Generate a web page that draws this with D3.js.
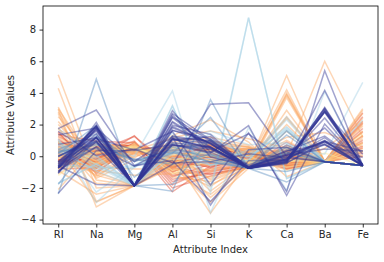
<!DOCTYPE html>
<html>
<head>
<meta charset="utf-8">
<script src="https://cdn.jsdelivr.net/npm/d3@7"></script>
<style>
  body { margin: 0; background: #fff; }
  text { font-family: "DejaVu Sans", sans-serif; fill: #262626; }
</style>
</head>
<body>
<script>
// attribute names (x categories) and y ticks
const attributes = ['RI', 'Na', 'Mg', 'Al', 'Si', 'K', 'Ca', 'Ba', 'Fe'];
const yTicks = [-4, -2, 0, 2, 4, 6, 8];

// standardized rows per glass type
const type1 = [
  [0.87, 0.28, 1.25, -0.69, -1.13, -0.67, -0.15, -0.35, -0.59],
  [-0.25, 0.59, 0.64, -0.17, 0.10, -0.03, -0.79, -0.35, -0.59],
  [-0.72, 0.15, 0.60, 0.19, 0.44, -0.16, -0.83, -0.35, -0.59],
  [-0.23, -0.24, 0.70, -0.31, -0.05, 0.11, -0.52, -0.35, -0.59],
  [-0.31, -0.17, 0.65, -0.41, 0.56, 0.08, -0.62, -0.35, -0.59],
  [-0.79, -0.76, 0.65, 0.35, 0.41, 0.22, -0.62, -0.35, 2.08],
  [-0.31, -0.13, 0.64, -0.61, 0.57, 0.13, -0.55, -0.35, -0.59],
  [-0.27, -0.32, 0.65, -0.79, 0.77, 0.11, -0.51, -0.35, -0.59],
  [0.27, 0.77, 0.63, -0.15, -0.73, 0.10, -0.46, -0.35, -0.59],
  [-0.27, -0.50, 0.64, -0.17, 0.44, 0.11, -0.39, -0.35, 0.54],
  [0.62, 0.45, 0.55, -0.85, -0.40, -0.55, 0.05, -0.35, -0.59],
  [1.35, 0.95, 0.85, -1.45, -1.10, -0.70, 0.30, -0.35, 0.20],
  [0.10, -0.35, 0.58, -0.55, 0.30, 0.02, -0.40, -0.35, 1.30],
  [0.45, 0.10, 0.75, -0.95, -0.20, -0.30, -0.05, -0.35, -0.59],
  [1.10, -0.60, 0.70, -2.25, -0.60, -0.65, 0.55, -0.35, 2.50],
  [0.85, -0.20, 1.30, -1.20, -0.90, -0.60, 0.15, -0.35, 0.85],
  [-0.45, -0.15, 0.55, -0.10, 0.65, 0.10, -0.70, -0.35, -0.59],
  [0.30, 0.30, 0.62, -0.60, -0.45, -0.05, -0.25, -0.35, 1.75],
  [1.55, -1.10, 0.90, -1.60, -1.00, -0.55, 0.70, -0.35, 0.00],
  [-0.10, 0.55, 0.60, -0.30, -0.05, -0.10, -0.55, -0.35, -0.59],
  [0.70, -0.45, 0.65, -1.00, 0.10, -0.35, 0.05, -0.35, 1.00],
  [0.20, -0.70, 0.52, -0.65, 0.55, 0.15, -0.35, -0.35, -0.59],
  [0.95, 0.20, 0.95, -1.80, -0.75, -0.70, 0.40, -0.35, 2.20],
  [-0.60, -0.30, 0.48, -0.05, 0.70, 0.20, -0.75, -0.35, -0.59],
  [1.25, 0.05, 0.80, -1.30, -0.50, -0.45, 0.25, -0.35, 0.65],
  [0.40, 0.65, 0.70, -0.40, -0.65, -0.15, -0.30, -0.35, -0.59],
  [-0.20, -0.95, 0.55, -0.20, 0.80, 0.25, -0.45, -0.35, 1.55],
  [0.55, -0.05, 0.40, -0.70, 0.15, -0.20, 0.00, -0.35, -0.59],
  [1.45, -0.75, 0.75, -2.00, -1.25, -0.65, 0.90, -0.35, 0.30],
  [0.05, 0.35, 0.67, -0.45, 0.00, -0.05, -0.50, -0.35, 2.75]
];
const type2 = [
  [5.15, -1.20, -1.86, -0.20, -2.60, -0.60, 4.00, -0.35, -0.59],
  [4.30, -2.00, -1.86, 0.10, -2.20, -0.45, 5.10, -0.35, 0.40],
  [3.10, -1.50, -1.86, -0.40, -1.80, -0.70, 3.90, -0.35, -0.59],
  [2.95, -3.20, -1.86, 0.30, -1.50, -0.50, 3.85, -0.35, 0.10],
  [2.80, -1.00, -1.86, -0.60, -2.90, -0.76, 3.70, -0.35, -0.59],
  [2.70, -2.85, -1.86, 0.00, -3.60, -0.30, 4.20, -0.35, -0.59],
  [2.20, -0.70, -0.80, -0.80, -1.30, -0.60, 2.90, -0.35, 1.20],
  [1.80, -1.40, -0.20, -0.50, -1.00, -0.40, 2.50, -0.35, -0.59],
  [-0.70, -0.60, 0.30, 0.60, 0.80, 0.45, -0.60, -0.35, -0.59],
  [0.20, -0.30, 0.35, 0.10, 0.20, 0.25, -0.20, -0.35, 0.90],
  [-0.40, -1.00, 0.10, 0.80, 0.95, 0.55, -0.40, -0.35, 2.40],
  [1.20, -0.50, 0.45, -0.30, -0.40, 0.10, 0.40, -0.35, 1.50],
  [0.60, 0.20, 0.55, -0.10, -0.20, 0.30, -0.30, -0.35, -0.59],
  [-1.10, 0.10, 0.40, 1.10, 1.00, 0.60, -0.80, -0.35, 0.50],
  [1.70, 0.35, 0.90, -0.70, -1.40, -0.20, 0.20, -0.35, 3.00],
  [0.00, -0.80, 0.20, 0.40, 0.50, 0.40, -0.10, -0.35, 1.90],
  [-0.30, 0.40, 0.50, 0.20, 0.10, 0.20, -0.50, -0.35, -0.59],
  [0.90, -1.30, 0.25, 0.00, 0.30, 0.50, 0.30, -0.35, 2.70],
  [2.50, -0.20, 0.65, -0.90, -1.90, -0.30, 1.00, -0.35, 0.80],
  [-2.10, 0.60, -0.10, 1.30, 2.30, 0.90, -1.30, -0.35, -0.59],
  [0.40, -0.10, 0.30, 0.50, -0.10, 0.35, 0.10, 6.00, 1.20],
  [-0.90, -2.40, -1.86, 1.20, 1.60, 1.10, 0.50, -0.35, -0.59],
  [1.40, -0.90, -1.20, -1.10, -0.80, -0.60, 2.00, -0.35, 2.10],
  [0.30, 0.70, 0.60, -0.20, -0.60, 0.15, -0.40, -0.35, 0.30],
  [-0.50, -0.40, 0.15, 0.90, 1.20, 0.70, -0.70, -0.35, 1.10],
  [0.75, -0.55, 0.40, 0.30, -0.30, 0.45, 0.20, -0.35, -0.59],
  [1.00, -1.70, -1.86, -0.70, -0.50, -0.40, 2.40, -0.35, 0.00],
  [-0.15, 0.15, 0.50, 0.00, 0.40, 0.30, -0.45, 0.50, 2.20],
  [0.10, -1.20, 0.00, 0.70, 0.70, 0.60, -0.15, -0.35, 1.60],
  [2.00, -0.40, 0.80, -1.30, -1.60, -0.55, 0.60, -0.35, -0.59],
  [-0.80, 0.50, 0.45, 0.50, 0.60, 0.40, -0.65, -0.35, 2.00],
  [0.55, -2.90, -1.86, 0.40, 0.90, 0.00, 1.20, 1.50, 0.60],
  [3.00, -0.60, 0.20, -1.00, -2.40, -0.60, 1.60, -0.35, -0.59],
  [-0.25, -0.70, 0.30, 0.60, 0.30, 0.50, -0.30, -0.35, 2.90],
  [0.85, 0.25, 0.70, -0.50, -0.90, 0.05, 0.00, -0.35, 1.30]
];
const type3 = [
  [0.30, 0.20, 0.60, -0.60, 0.10, -0.40, -0.20, -0.35, -0.59],
  [-0.40, 0.50, 0.55, -0.30, 0.40, -0.30, -0.50, -0.35, -0.59],
  [0.90, -0.30, 0.70, -0.90, -0.30, -0.50, 0.20, -0.35, 0.80],
  [-0.80, 0.90, 0.45, 0.10, 0.20, -0.20, -0.70, -0.35, -0.59],
  [0.10, 0.00, 0.65, -0.50, 0.60, -0.35, -0.30, -0.35, 1.40],
  [-1.20, 0.30, 0.35, 0.50, 0.80, 0.00, -0.90, -0.35, -0.59],
  [0.55, -0.50, 0.80, -1.10, -0.20, -0.55, 0.00, -0.35, 0.30],
  [-0.10, 0.70, 0.50, -0.20, 0.00, -0.25, -0.40, 0.20, -0.59]
];
const type5 = [
  [-1.06, 0.74, 0.00, 4.13, -3.57, 1.81, -2.17, 4.08, -0.59],
  [0.26, -0.83, -0.58, 0.83, 0.05, 0.16, 0.80, -0.35, -0.59],
  [1.10, -2.27, -0.56, 0.23, 0.27, -0.04, 1.72, -0.35, -0.59],
  [1.03, -2.92, -0.68, 0.23, 1.02, 0.13, 1.87, -0.35, -0.59],
  [0.43, -0.94, -1.86, 0.41, 1.42, -0.18, 1.81, -0.35, -0.59],
  [-0.56, -0.67, -1.86, 0.77, 1.59, 0.73, 0.85, -0.35, -0.59],
  [0.52, -0.17, -1.86, 0.63, 0.49, -0.04, 1.66, -0.35, -0.59],
  [1.75, 0.04, -1.86, 0.27, -0.55, -0.27, 2.31, -0.35, -0.59],
  [-1.72, -0.47, -1.86, 3.20, -2.33, 8.76, -1.40, -0.35, -0.59],
  [-1.70, -0.50, -1.86, 3.16, -2.05, 8.76, -1.42, -0.35, -0.59],
  [0.68, -0.03, -1.86, -0.09, -0.52, -0.25, 2.49, -0.35, -0.59],
  [0.73, -0.68, -0.74, 1.45, -0.61, 0.41, 0.52, 0.13, 4.66],
  [0.93, -0.53, -1.63, 0.13, 0.95, -0.56, 1.63, -0.35, 2.29]
];
const type6 = [
  [0.22, 0.73, -0.20, 0.23, -0.36, -0.76, 0.43, -0.35, -0.59],
  [0.33, 0.47, -0.19, -0.51, 0.14, -0.76, 0.57, -0.35, -0.59],
  [-0.03, 1.29, -0.31, 0.35, -0.35, -0.76, 0.21, -0.35, -0.59],
  [0.05, 0.84, -0.34, 0.43, 0.02, -0.76, 0.25, -0.35, -0.59],
  [-1.77, 1.22, -0.65, 0.19, 2.45, -0.76, -0.96, -0.35, -0.59],
  [0.17, 1.94, -1.32, 0.59, -0.19, -0.76, 0.70, -0.35, -0.59],
  [0.26, 0.91, -1.86, 1.29, 0.12, -0.76, 1.35, -0.35, -0.59],
  [0.43, 1.41, -1.86, -1.77, 1.08, -0.76, 1.59, -0.35, -0.59],
  [-2.38, 4.87, -1.86, -2.21, 3.57, -0.76, -1.63, -0.35, -0.59]
];
const type7 = [
  [-2.33, 0.35, 0.36, 0.73, 0.20, 1.94, -2.48, 2.04, -0.59],
  [0.00, 1.12, 0.40, 1.56, -1.81, 1.48, -2.23, 5.40, -0.59],
  [1.57, 0.04, 0.46, -0.43, -0.35, 0.16, -0.09, -0.35, -0.59],
  [1.35, 1.78, -0.33, 1.23, -3.08, 0.41, 0.56, -0.35, -0.59],
  [1.74, 2.92, -0.59, -0.27, -2.86, -0.29, -0.24, 3.03, -0.59],
  [-0.74, 0.59, -0.62, 0.69, 0.58, -0.76, -0.20, 1.18, -0.59],
  [-0.78, 1.77, -1.86, 1.88, 0.81, -0.76, -0.14, 0.94, 0.33],
  [-0.71, 0.98, -1.86, 2.70, 1.04, -0.70, 0.06, 0.45, 0.33],
  [-0.39, 1.65, -1.86, 1.11, 0.48, -0.76, -0.30, 2.85, -0.59],
  [-0.51, 1.41, -1.86, 1.07, 0.82, -0.76, -0.31, 2.81, 0.13],
  [-0.96, 0.90, -1.86, 2.48, 0.95, -0.64, 0.08, 0.88, -0.08],
  [-0.93, 0.57, -1.86, 2.20, 0.75, -0.55, 0.32, 1.28, -0.49],
  [-0.36, 1.59, -1.86, 1.80, 0.81, -0.76, 0.00, 0.98, -0.59],
  [-1.01, 1.20, -1.86, 2.44, 0.58, -0.70, 0.09, 0.94, -0.59],
  [-0.75, 1.97, -1.86, 2.14, 0.52, -0.68, -0.09, 0.72, -0.59],
  [-1.08, 2.14, -1.86, 1.62, 1.10, -0.76, -0.43, 0.92, -0.59],
  [-0.60, -1.78, -1.86, -0.51, 3.28, 3.38, -0.02, -0.35, -0.59],
  [-1.06, 1.77, -1.86, 1.96, 1.38, -0.76, -0.40, 0.78, -0.59],
  [-0.58, 1.71, -1.86, 1.09, 0.59, -0.76, -0.48, 3.09, -0.59],
  [-0.72, 1.89, -1.86, 1.65, 0.84, -0.76, -0.18, 1.00, -0.59],
  [-0.34, 1.89, -1.86, 0.71, 0.44, -0.76, -0.24, 2.77, -0.59],
  [-0.63, 1.88, -1.86, 0.85, 0.59, -0.76, -0.20, 2.42, -0.59],
  [-0.02, 1.21, -1.86, 0.75, 0.27, 1.41, -0.36, 4.16, -0.59],
  [-0.65, 1.18, -1.86, 2.60, 0.26, -0.76, 0.35, 0.74, -0.59],
  [-0.71, 0.90, -1.86, 2.88, -0.05, -0.64, 0.16, 1.78, -0.59],
  [-0.50, 1.86, -1.86, 1.09, 0.53, -0.76, -0.39, 2.85, -0.59],
  [0.75, 1.17, -1.86, 1.15, 0.99, -0.76, -0.36, 2.95, -0.59],
  [-0.61, 1.20, -1.86, 0.99, 1.24, -0.76, -0.33, 2.81, -0.59],
  [-0.41, 1.01, -1.86, 1.27, 0.92, -0.76, -0.23, 3.01, -0.59]
];
const groups = [[1, type1], [2, type2], [3, type3], [5, type5], [6, type6], [7, type7]];

const width = 384, height = 262;
const margin = {left: 43, right: 6, top: 6, bottom: 38};

const svg = d3.select('body').append('svg')
    .attr('width', width)
    .attr('height', height);

const x = d3.scaleLinear()
    .domain([-0.4, attributes.length - 0.6])
    .range([margin.left, width - margin.right]);
const y = d3.scaleLinear()
    .domain([-4.28, 9.49])
    .range([height - margin.bottom, margin.top]);

const line = d3.line()
    .x((d, i) => x(i))
    .y(d => y(d));

// one line per sample, drawn in data order (type 7 ends on top)
const plot = svg.append('g');
groups.forEach(([cls, rows]) => {
    plot.append('g')
        .selectAll('path')
        .data(rows)
        .enter().append('path')
        .attr('d', line)
        .attr('fill', 'none')
        .attr('stroke', d3.interpolateRdYlBu(cls / 7))
        .attr('stroke-opacity', 0.45)
        .attr('stroke-width', 1.5);
});

// axes
const xAxis = svg.append('g')
    .attr('transform', `translate(0,${height - margin.bottom})`)
    .call(d3.axisBottom(x).tickValues(d3.range(attributes.length))
        .tickFormat(i => attributes[i]).tickSizeOuter(0).tickSize(3.5).tickPadding(3.5));
const yAxis = svg.append('g')
    .attr('transform', `translate(${margin.left},0)`)
    .call(d3.axisLeft(y).tickValues(yTicks)
        .tickFormat(d => d < 0 ? '\u2212' + Math.abs(d) : d).tickSizeOuter(0).tickSize(3.5).tickPadding(3.5));
[xAxis, yAxis].forEach(a => {
    a.select('.domain').remove();
    a.selectAll('line').attr('stroke', '#000').attr('stroke-width', 0.8);
    a.selectAll('text').attr('font-size', 10).attr('fill', '#262626')
        .style('font-family', '"DejaVu Sans", sans-serif');
});

// frame
svg.append('rect')
    .attr('x', margin.left)
    .attr('y', margin.top)
    .attr('width', width - margin.left - margin.right)
    .attr('height', height - margin.top - margin.bottom)
    .attr('fill', 'none')
    .attr('stroke', '#000')
    .attr('stroke-width', 0.8);

svg.append('text')
    .attr('x', (margin.left + width - margin.right) / 2)
    .attr('y', 253)
    .attr('text-anchor', 'middle')
    .attr('font-size', 10)
    .text('Attribute Index');
svg.append('text')
    .attr('transform', `translate(14,${(margin.top + height - margin.bottom) / 2}) rotate(-90)`)
    .attr('text-anchor', 'middle')
    .attr('font-size', 10)
    .text('Attribute Values');
</script>
</body>
</html>
